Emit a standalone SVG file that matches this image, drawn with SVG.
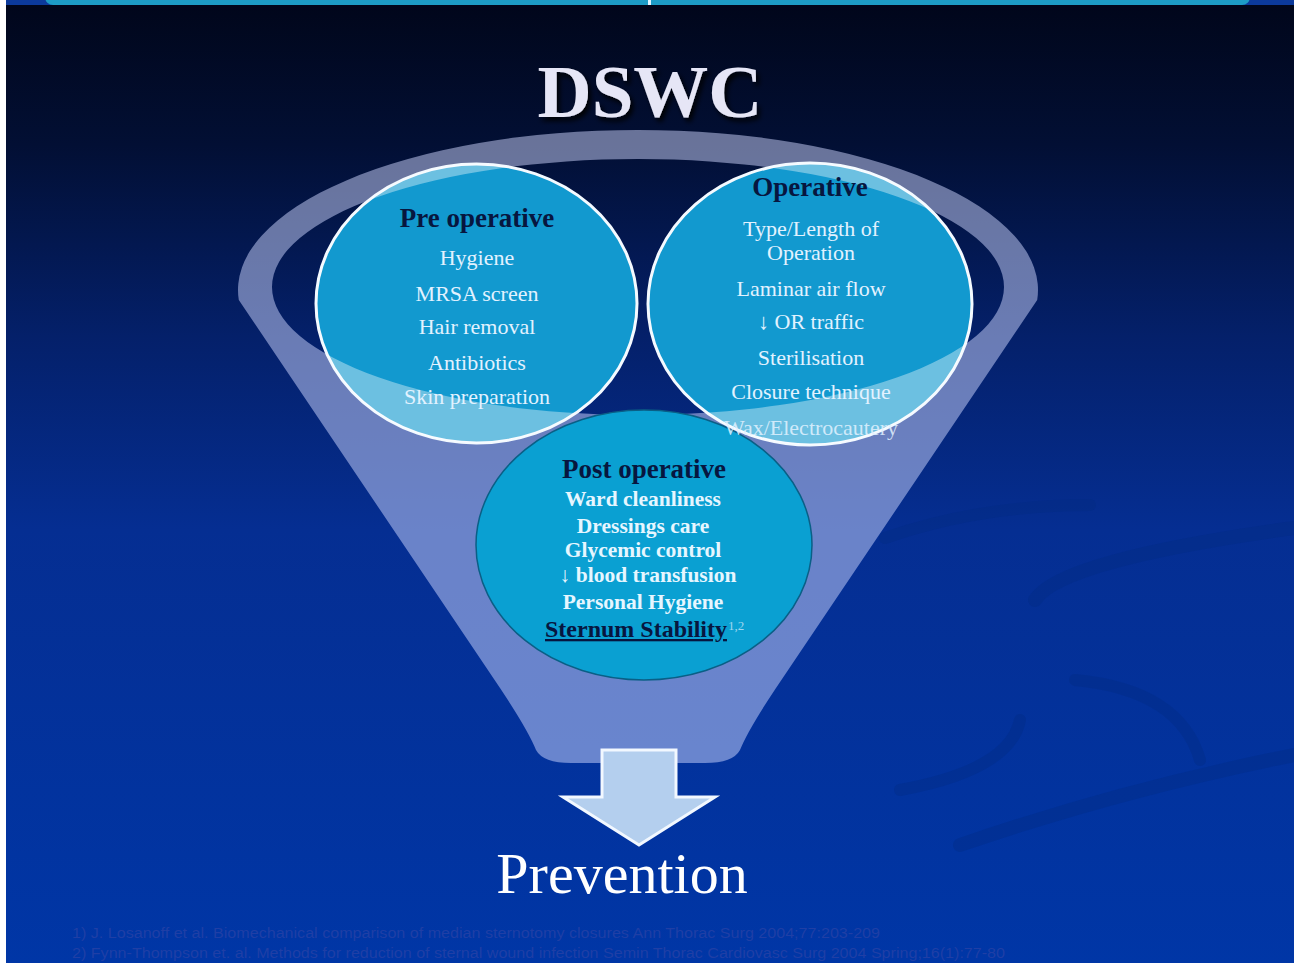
<svg xmlns="http://www.w3.org/2000/svg" width="1294" height="963" viewBox="0 0 1294 963">
<defs>
<linearGradient id="bg" x1="0" y1="0" x2="0" y2="1">
<stop offset="0" stop-color="#01061a"/>
<stop offset="0.15" stop-color="#020f34"/>
<stop offset="0.35" stop-color="#04206a"/>
<stop offset="0.55" stop-color="#052e92"/>
<stop offset="1" stop-color="#0036a6"/>
</linearGradient>
<filter id="shadow" x="-10%" y="-10%" width="130%" height="140%">
<feDropShadow dx="3" dy="4" stdDeviation="2.5" flood-color="#000000" flood-opacity="0.9"/>
</filter>
<clipPath id="upperClip">
<ellipse cx="476.5" cy="303.5" rx="160.5" ry="139.5"/>
<ellipse cx="810" cy="304" rx="162" ry="141"/>
</clipPath>
<path id="funnelShape" d="M 238.8 300 A 400 160 0 1 1 1037.2 300 L 776 688 Q 748 730 740 750 Q 733 763 705 763 L 571 763 Q 543 763 536 750 Q 528 730 500 688 Z M 272 287 A 366 128 0 0 0 1004 287 A 366 128 0 0 0 272 287 Z"/>
<style>
.serif{font-family:"Liberation Serif","DejaVu Serif",serif;}
.head{font-weight:bold;fill:#07163f;font-size:27px;text-anchor:middle;}
.item{fill:#e2f2ff;font-size:22px;text-anchor:middle;}
.bitem{fill:#e6f6ff;font-size:21.5px;font-weight:bold;text-anchor:middle;}
.upper{fill:#1299cf;stroke:#f4faff;stroke-width:3;}
.foot{font-family:"Liberation Sans",Arial,sans-serif;font-size:14px;fill:#1f3fa6;}
.swirl{fill:none;stroke:#032a80;stroke-linecap:round;opacity:0.35;}
</style>
</defs>

<g id="background">
<rect x="0" y="0" width="1294" height="963" fill="url(#bg)"/>
<path class="swirl" stroke-width="12" d="M 885 538 Q 980 505 1090 505"/>
<path class="swirl" stroke-width="14" d="M 1035 600 Q 1060 560 1294 528"/>
<path class="swirl" stroke-width="12" d="M 1075 680 Q 1180 690 1200 760"/>
<path class="swirl" stroke-width="12" d="M 900 790 Q 1010 770 1020 720"/>
<path class="swirl" stroke-width="14" d="M 960 845 Q 1120 790 1294 755"/>
<rect x="0" y="0" width="1294" height="5" fill="#0c3a9c"/>
<rect x="45" y="-12" width="1205" height="17" rx="8" fill="#1d9cc6"/>
<rect x="648" y="0" width="3" height="5" fill="#dff4ff"/>
<rect x="0" y="0" width="6" height="963" fill="#ffffff"/>
</g>

<g id="title">
<text class="serif" x="650" y="117" font-size="75" font-weight="bold" fill="#e6e6f6" text-anchor="middle" filter="url(#shadow)">DSWC</text>
</g>

<g id="funnel">
<use href="#funnelShape" fill="#d0d8ff" fill-opacity="0.5" fill-rule="evenodd"/>
</g>

<g id="post-operative">
<ellipse cx="644" cy="545" rx="168" ry="135" fill="#0aa0d2" stroke="#0a5f86" stroke-width="1.5"/>
</g>

<g id="pre-operative-shape">
<ellipse class="upper" cx="476.5" cy="303.5" rx="160.5" ry="139.5"/>
</g>
<g id="operative-shape">
<ellipse class="upper" cx="810" cy="304" rx="162" ry="141"/>
</g>
<g id="funnel-overlay" clip-path="url(#upperClip)">
<use href="#funnelShape" fill="#ffffff" fill-opacity="0.38" fill-rule="evenodd"/>
</g>

<g id="pre-operative" class="serif">
<text class="head" x="477" y="227">Pre operative</text>
<text class="item" x="477" y="265">Hygiene</text>
<text class="item" x="477" y="301">MRSA screen</text>
<text class="item" x="477" y="334">Hair removal</text>
<text class="item" x="477" y="370">Antibiotics</text>
<text class="item" x="477" y="404">Skin preparation</text>
</g>

<g id="operative" class="serif">
<text class="head" x="810" y="196">Operative</text>
<text class="item" x="811" y="236">Type/Length of</text>
<text class="item" x="811" y="260">Operation</text>
<text class="item" x="811" y="296">Laminar air flow</text>
<text class="item" x="811" y="329">↓ OR traffic</text>
<text class="item" x="811" y="365">Sterilisation</text>
<text class="item" x="811" y="399">Closure technique</text>
<text class="item" x="811" y="435" fill-opacity="0.85">Wax/Electrocautery</text>
</g>

<g id="post-operative-text" class="serif">
<text class="head" x="644" y="478">Post operative</text>
<text class="bitem" x="643" y="506">Ward cleanliness</text>
<text class="bitem" x="643" y="533">Dressings care</text>
<text class="bitem" x="643" y="557">Glycemic control</text>
<text class="bitem" x="648" y="582">↓ blood transfusion</text>
<text class="bitem" x="643" y="609">Personal Hygiene</text>
<text x="545" y="637" font-size="23" font-weight="bold" style="fill:#07163f" text-decoration="underline" textLength="182" lengthAdjust="spacingAndGlyphs">Sternum Stability</text>
<text x="728" y="630" font-size="13" fill="#9fd6ef">1,2</text>
</g>

<g id="connectors">
<path d="M 602 750 L 676 750 L 676 797 L 715 797 L 639 845 L 563 797 L 602 797 Z" fill="#b4cfee" stroke="#f2f8ff" stroke-width="3" stroke-linejoin="miter"/>
</g>

<g id="prevention">
<text class="serif" x="622" y="893" font-size="58" fill="#ffffff" text-anchor="middle">Prevention</text>
</g>

<g id="footnotes">
<text class="foot" x="72" y="938" textLength="808" lengthAdjust="spacingAndGlyphs">1) J. Losanoff et al. Biomechanical comparison of median sternotomy closures Ann Thorac Surg 2004;77:203-209</text>
<text class="foot" x="72" y="958" textLength="933" lengthAdjust="spacingAndGlyphs">2) Fynn-Thompson et. al. Methods for reduction of sternal wound infection Semin Thorac Cardiovasc Surg 2004 Spring;16(1):77-80</text>
</g>
</svg>
